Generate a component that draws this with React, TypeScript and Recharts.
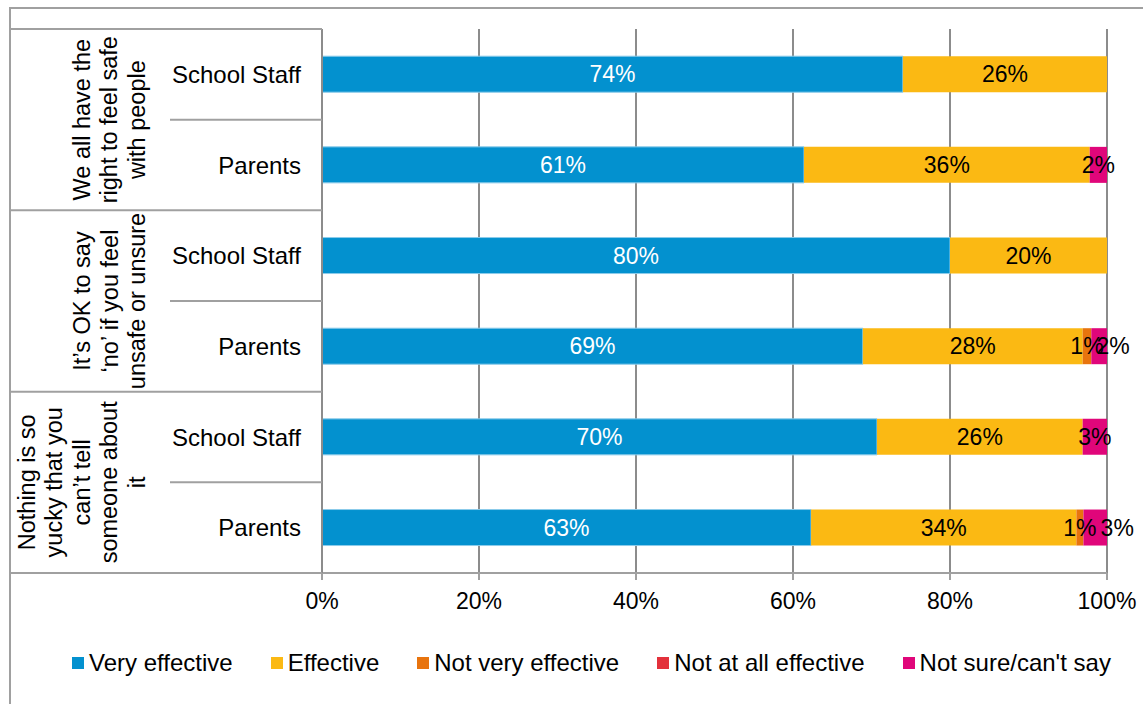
import React from 'react';
import { BarChart, Bar, XAxis, YAxis, CartesianGrid, LabelList } from 'recharts';

// rows, top to bottom
const who = ['School Staff', 'Parents', 'School Staff', 'Parents', 'School Staff', 'Parents'];
const groups = [
  ['We all have the', 'right to feel safe', 'with people'],
  ['It\u2019s OK to say', '\u2018no\u2019 if you feel', 'unsafe or unsure'],
  ['Nothing is so', 'yucky that you', 'can\u2019t tell', 'someone about', 'it'],
];

// bar lengths (% of responses)
const veryEffective = [74, 61.4, 80, 68.9, 70.7, 62.3];
const effective = [26, 36.4, 20, 28.0, 26.2, 33.8];
const notVeryEffective = [0, 0, 0, 1.1, 0, 0.9];
const notAtAllEffective = [0, 0, 0, 0, 0, 0];
const notSure = [0, 2.2, 0, 2.0, 3.1, 3.0];

// data labels as printed on the bars
const veryEffectiveLbl = ['74%', '61%', '80%', '69%', '70%', '63%'];
const effectiveLbl = ['26%', '36%', '20%', '28%', '26%', '34%'];
const notVeryLbl = ['', '', '', '1%', '', '1%'];
const notAtAllLbl = ['', '', '', '', '', ''];
const notSureLbl = ['', '2%', '', '2%', '3%', '3%'];

const xTicks = [0, 20, 40, 60, 80, 100];

const series = [
  { key: 'v1', lbl: 'l1', name: 'Very effective', color: '#0391cf', text: '#ffffff' },
  { key: 'v2', lbl: 'l2', name: 'Effective', color: '#fbb913', text: '#000000' },
  { key: 'v3', lbl: 'l3', name: 'Not very effective', color: '#e8740e', text: '#000000' },
  { key: 'v4', lbl: 'l4', name: 'Not at all effective', color: '#e3313b', text: '#000000' },
  { key: 'v5', lbl: 'l5', name: "Not sure/can't say", color: '#e0067a', text: '#000000' },
];

const data = who.map((w, i) => ({
  who: w,
  group: 'g' + Math.floor(i / 2),
  v1: veryEffective[i], v2: effective[i], v3: notVeryEffective[i], v4: notAtAllEffective[i], v5: notSure[i],
  l1: veryEffectiveLbl[i], l2: effectiveLbl[i], l3: notVeryLbl[i], l4: notAtAllLbl[i], l5: notSureLbl[i],
}));

const W = 1143;
const H = 704;
const FONT = '"Liberation Sans", Arial, sans-serif';
const LINE = '#a0a0a0';
const TOP = 29;
const BOTTOM = 573;
const LEFT = 10;
const SUB_LEFT = 170;
const PLOT_LEFT = 322;
const BAND = (BOTTOM - TOP) / who.length;
// "not sure" labels that sit a little right of their segment, as in the original
const NUDGE: Record<number, number> = { 1: 14, 3: 22, 5: 15 };

const SubTick = (props: any) => {
  const { y, payload, index } = props;
  return (
    <g>
      <text x={301} y={y} textAnchor="end" dominantBaseline="central" fontSize={24} fill="#000" fontFamily={FONT}>
        {payload.value}
      </text>
      {index % 2 === 0 && (
        <line x1={SUB_LEFT} x2={PLOT_LEFT} y1={y + BAND / 2} y2={y + BAND / 2} stroke={LINE} strokeWidth={2} />
      )}
    </g>
  );
};

const GroupTick = (props: any) => {
  const { y, index } = props;
  if (index % 2 !== 0) return <g />;
  const g = groups[index / 2];
  const top = y - BAND / 2;
  const mid = y + BAND / 2;
  const n = g.length;
  return (
    <g>
      <line x1={LEFT} x2={PLOT_LEFT} y1={top} y2={top} stroke={LINE} strokeWidth={2} />
      {index === who.length - 2 && (
        <line x1={LEFT} x2={PLOT_LEFT} y1={top + 2 * BAND} y2={top + 2 * BAND} stroke={LINE} strokeWidth={2} />
      )}
      {g.map((t, i) => {
        const cx = 137 - (n - 1 - i) * 27.5;
        return (
          <text key={i} x={cx} y={mid} transform={`rotate(-90 ${cx} ${mid})`} textAnchor="middle"
            dominantBaseline="central" fontSize={23.5} fill="#000" fontFamily={FONT}>
            {t}
          </text>
        );
      })}
    </g>
  );
};

const makeLabel = (color: string, nudge: boolean) => (p: any) => {
  if (!p.value) return null;
  const dx = nudge ? NUDGE[p.index] || 0 : 0;
  return (
    <text x={p.x + p.width / 2 + dx} y={p.y + p.height / 2} textAnchor="middle" dominantBaseline="central"
      fontSize={23} fill={color} fontFamily={FONT}>
      {p.value}
    </text>
  );
};

export default function App() {
  return (
    <div style={{ position: 'absolute', left: 0, top: 0, width: W, height: H, background: '#fff', fontFamily: FONT }}>
      <div style={{ position: 'absolute', left: 9, top: 7, width: W - 9, height: H - 7, borderTop: `2px solid ${LINE}`, borderLeft: `2px solid ${LINE}` }} />
      <div style={{ position: 'absolute', left: 0, top: 0 }}>
        <BarChart width={W} height={H} data={data} layout="vertical" barCategoryGap="30%"
          margin={{ top: TOP, right: W - 1107, bottom: H - BOTTOM - 40, left: LEFT }}>
          <CartesianGrid horizontal={false} stroke="#8c8c8c" strokeWidth={2} />
          <XAxis type="number" domain={[0, 100]} ticks={xTicks} tickFormatter={(v) => v + '%'} height={40}
            axisLine={{ stroke: LINE, strokeWidth: 2 }} tickLine={{ stroke: LINE, strokeWidth: 2 }} tickSize={7} tickMargin={13}
            tick={{ fontSize: 23, fill: '#000', fontFamily: FONT }} interval={0} />
          <YAxis type="category" dataKey="who" width={PLOT_LEFT - SUB_LEFT} tick={<SubTick />} interval={0}
            axisLine={{ stroke: '#8c8c8c', strokeWidth: 2 }} tickLine={false} />
          <YAxis yAxisId="group" type="category" dataKey="group" width={SUB_LEFT - LEFT} tick={<GroupTick />} interval={0}
            axisLine={false} tickLine={false} />
          {series.map((s) => (
            <Bar key={s.key} dataKey={s.key} name={s.name} stackId="a" fill={s.color} isAnimationActive={false}
              stroke={s.key === 'v1' ? '#8ccbea' : undefined} strokeWidth={s.key === 'v1' ? 1 : 0}>
              <LabelList dataKey={s.lbl} content={makeLabel(s.text, s.key === 'v5')} />
            </Bar>
          ))}
        </BarChart>
      </div>
      <div style={{ position: 'absolute', left: 72, top: 650, display: 'flex', alignItems: 'center', gap: 38, fontSize: 24, lineHeight: '26px', color: '#000' }}>
        {series.map((s) => (
          <div key={s.key} style={{ display: 'flex', alignItems: 'center', whiteSpace: 'nowrap' }}>
            <span style={{ display: 'inline-block', width: 12, height: 12, background: s.color, marginRight: 5 }} />
            {s.name}
          </div>
        ))}
      </div>
    </div>
  );
}
